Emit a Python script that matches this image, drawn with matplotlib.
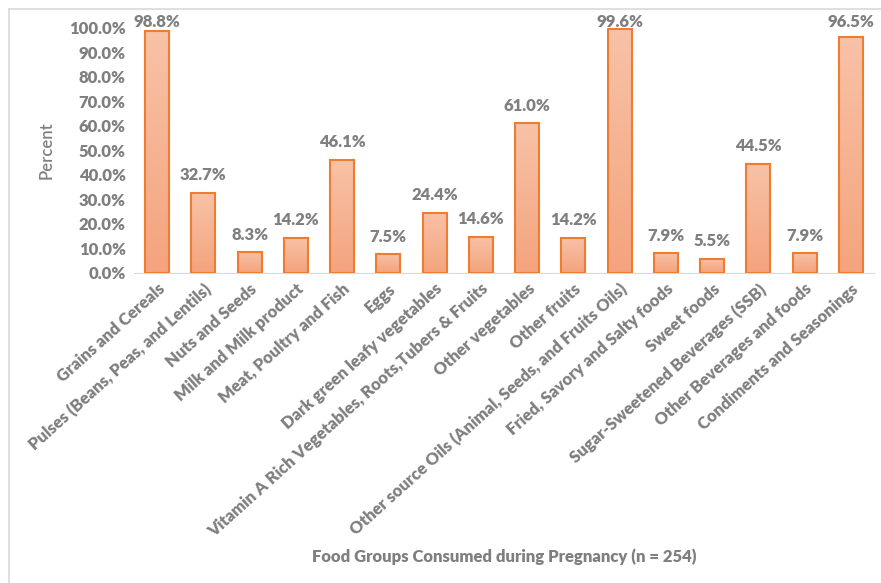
import numpy as np
import matplotlib
matplotlib.use('Agg')
import matplotlib.pyplot as plt
from matplotlib.colors import LinearSegmentedColormap
from matplotlib.lines import Line2D

# dữ liệu
foods = ['Grains and Cereals', 'Pulses (Beans, Peas, and Lentils)', 'Nuts and Seeds',
         'Milk and Milk product', 'Meat, Poultry and Fish', 'Eggs',
         'Dark green leafy vegetables', 'Vitamin A Rich Vegetables, Roots,Tubers & Fruits',
         'Other vegetables', 'Other fruits', 'Other source Oils (Animal, Seeds, and Fruits Oils)',
         'Fried, Savory and Salty foods', 'Sweet foods', 'Sugar-Sweetened Beverages (SSB)',
         'Other Beverages and foods', 'Condiments and Seasonings']
percent = [98.8, 32.7, 8.3, 14.2, 46.1, 7.5, 24.4, 14.6, 61.0, 14.2, 99.6, 7.9, 5.5, 44.5, 7.9, 96.5]

plt.rcParams['font.family'] = ['Lato', 'DejaVu Sans']
gray = '#7f7f7f'
fs = 12

fig = plt.figure(figsize=(8.81, 5.83), dpi=100)
ax = fig.add_axes([134/881, 1 - 272.5/583, 740/881, 244.5/583])

x = np.arange(len(foods))
w = 0.52
cmap = LinearSegmentedColormap.from_list('grad', ['#f4a47e', '#f8c2a7'])
grad = np.linspace(0, 1, 100).reshape(-1, 1)
for xi, v in zip(x, percent):
    ax.imshow(grad, cmap=cmap, origin='lower', aspect='auto',
              extent=[xi - w/2, xi + w/2, 0, v], zorder=2)
ax.bar(x, percent, width=w, fill=False, edgecolor='#ed7d31', linewidth=1.5, zorder=3)
# nhãn giá trị, bị chặn ở mép trên như Excel
for xi, v in zip(x, percent):
    ax.text(xi, min(v + 7.2, 102.5), '%.1f%%' % v, ha='center', va='center', fontsize=fs,
            fontweight='heavy', color=gray, clip_on=False)

ax.set_xlim(-0.5, len(foods) - 0.5)
ax.set_ylim(0, 100)
ax.set_yticks(np.arange(0, 101, 10))
ax.set_yticklabels(['%.1f%%' % t for t in np.arange(0, 101, 10)])
ax.set_xticks(x)
ax.set_xticklabels(foods, rotation=42, ha='right', rotation_mode='anchor')
ax.tick_params(length=0, labelsize=fs, labelcolor=gray, pad=6)
for lab in ax.get_xticklabels() + ax.get_yticklabels():
    lab.set_fontweight('heavy')
for s in ['top', 'right', 'left']:
    ax.spines[s].set_visible(False)
ax.spines['bottom'].set_color('#d9d9d9')

ax.set_ylabel('Percent', fontsize=fs, fontweight='semibold', color=gray, labelpad=10)
fig.text(504/881, 1 - 557/583, 'Food Groups Consumed during Pregnancy (n = 254)',
         ha='center', va='center', fontsize=fs, fontweight='heavy', color=gray)

# khung viền ngoài
fig.add_artist(Line2D([8.5/881, 1], [1 - 8.5/583] * 2, color='#d9d9d9', lw=1.2))
fig.add_artist(Line2D([8.5/881] * 2, [0, 1 - 8.5/583], color='#d9d9d9', lw=1.2))

fig.savefig('out.png', dpi=100)
